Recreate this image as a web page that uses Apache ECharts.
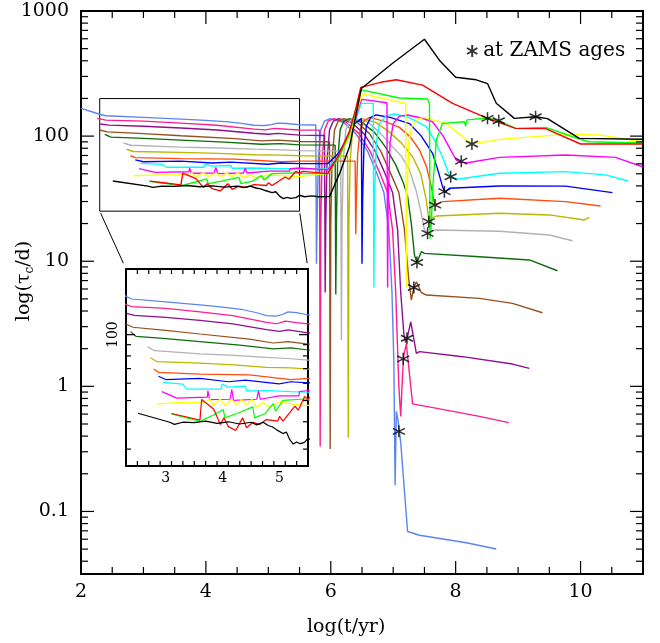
<!DOCTYPE html>
<html><head><meta charset="utf-8">
<script src="https://cdn.jsdelivr.net/npm/echarts/dist/echarts.min.js"></script>
<style>html,body{margin:0;padding:0;background:#fff}#c{width:660px;height:643px}</style>
</head><body><div id="c"></div><script>
// ---- values: [log10(t/yr), log10(tau_c/d)] ----
const lightBlue=[[2.00,2.222],[2.30,2.175],[2.40,2.163],[3.00,2.150],[3.60,2.136],[4.00,2.126],[4.36,2.114],[4.60,2.100],[4.77,2.087],[4.94,2.085],[5.05,2.092],[5.15,2.104],[5.30,2.101],[5.51,2.090],[5.76,2.089],[5.77,0.98],[5.78,1.30],[5.80,1.80],[5.84,2.05],[5.90,2.12],[5.99,2.14],[6.20,2.11],[6.40,2.02],[6.59,1.88],[6.74,1.70],[6.85,1.55],[6.93,1.25],[6.98,0.75],[7.01,0.20],[7.03,-0.79],[7.05,-0.20],[7.08,-0.28],[7.12,-0.45],[7.23,-1.16],[7.42,-1.19],[7.80,-1.22],[8.17,-1.25],[8.65,-1.30]];
const pink=[[2.26,2.142],[2.40,2.128],[3.00,2.120],[3.60,2.104],[4.18,2.087],[4.77,2.056],[4.95,2.050],[5.10,2.062],[5.30,2.055],[5.50,2.049],[5.82,2.048],[5.83,-0.48],[5.84,1.30],[5.86,1.80],[5.90,2.05],[5.96,2.12],[6.05,2.14],[6.25,2.11],[6.45,2.02],[6.63,1.88],[6.79,1.70],[6.91,1.55],[6.99,1.25],[7.04,0.75],[7.09,0.00],[7.12,-0.24],[7.15,0.10],[7.17,0.25],[7.21,0.34],[7.26,0.10],[7.31,-0.14],[7.85,-0.19],[8.38,-0.24],[8.85,-0.29]];
const purple=[[2.31,2.097],[2.45,2.088],[3.00,2.079],[3.60,2.065],[4.18,2.049],[4.77,2.023],[5.00,2.015],[5.15,2.022],[5.50,2.008],[5.90,2.005],[5.91,0.75],[5.92,1.30],[5.94,1.80],[5.98,2.05],[6.04,2.12],[6.13,2.14],[6.33,2.11],[6.53,2.02],[6.71,1.88],[6.87,1.70],[6.99,1.55],[7.07,1.25],[7.12,0.75],[7.17,0.42],[7.20,0.35],[7.23,0.40],[7.28,0.516],[7.33,0.38],[7.37,0.264],[7.42,0.277],[8.11,0.237],[8.91,0.178],[9.18,0.144]];
const brown=[[2.30,2.049],[2.42,2.034],[3.00,2.020],[3.60,2.003],[4.47,1.980],[4.89,1.962],[5.15,1.968],[5.50,1.957],[5.98,1.955],[5.99,-0.50],[6.00,1.30],[6.02,1.80],[6.06,2.05],[6.12,2.12],[6.21,2.14],[6.42,2.11],[6.62,2.02],[6.80,1.88],[6.96,1.70],[7.09,1.55],[7.18,1.25],[7.25,0.85],[7.29,0.69],[7.33,0.79],[7.37,0.836],[7.45,0.75],[7.53,0.73],[8.38,0.703],[8.91,0.663],[9.39,0.588]];
const darkGreen=[[2.38,2.014],[2.48,1.992],[3.00,1.982],[3.60,1.968],[4.30,1.952],[4.89,1.935],[5.20,1.940],[5.50,1.930],[6.07,1.928],[6.08,0.735],[6.09,1.30],[6.11,1.80],[6.15,2.05],[6.21,2.12],[6.30,2.14],[6.50,2.11],[6.70,2.03],[6.88,1.91],[7.04,1.77],[7.16,1.63],[7.23,1.52],[7.29,1.30],[7.34,1.05],[7.38,0.99],[7.45,1.076],[7.50,1.063],[8.38,1.036],[9.18,1.010],[9.63,0.924]];
const gray=[[2.68,1.945],[2.80,1.927],[3.60,1.912],[4.20,1.905],[4.77,1.896],[5.20,1.890],[5.50,1.884],[6.16,1.880],[6.17,0.37],[6.18,1.30],[6.20,1.80],[6.24,2.05],[6.30,2.12],[6.39,2.14],[6.60,2.11],[6.80,2.02],[6.98,1.92],[7.13,1.84],[7.26,1.73],[7.37,1.56],[7.45,1.38],[7.50,1.25],[7.55,1.223],[7.62,1.245],[7.69,1.25],[8.70,1.24],[9.50,1.21],[9.87,1.164]];
const olive=[[2.73,1.895],[2.84,1.877],[3.60,1.870],[4.20,1.862],[4.77,1.851],[5.20,1.848],[5.50,1.843],[6.27,1.840],[6.28,-0.41],[6.29,1.30],[6.31,1.80],[6.35,2.05],[6.41,2.12],[6.50,2.14],[6.72,2.11],[6.92,2.04],[7.12,1.95],[7.31,1.835],[7.44,1.70],[7.53,1.489],[7.57,1.33],[7.60,1.32],[7.64,1.35],[7.69,1.361],[8.70,1.383],[9.50,1.370],[10.06,1.330],[10.14,1.350]];
const orange=[[2.79,1.843],[2.87,1.828],[3.60,1.820],[4.47,1.816],[5.20,1.795],[5.50,1.800],[6.39,1.800],[6.40,1.215],[6.41,1.50],[6.43,1.85],[6.47,2.05],[6.53,2.12],[6.62,2.15],[6.85,2.12],[7.10,2.07],[7.28,1.99],[7.42,1.889],[7.53,1.76],[7.61,1.596],[7.66,1.46],[7.70,1.455],[7.79,1.476],[8.70,1.503],[9.76,1.476],[10.32,1.441]];
const blue=[[2.87,1.810],[3.00,1.795],[3.60,1.800],[4.10,1.785],[4.40,1.792],[4.99,1.775],[5.20,1.785],[5.50,1.780],[5.95,1.780],[6.12,1.86],[6.25,1.97],[6.38,2.10],[6.49,2.14],[6.50,0.98],[6.51,1.50],[6.53,1.90],[6.57,2.08],[6.64,2.15],[6.73,2.169],[6.95,2.15],[7.26,2.10],[7.45,2.00],[7.63,1.862],[7.72,1.72],[7.79,1.596],[7.83,1.55],[7.90,1.583],[8.70,1.601],[9.76,1.600],[10.51,1.548]];
const cyan=[[2.95,1.782],[3.30,1.774],[3.37,1.751],[3.97,1.751],[3.99,1.774],[4.10,1.760],[4.40,1.765],[4.42,1.743],[4.77,1.745],[5.20,1.740],[5.50,1.737],[5.95,1.740],[6.12,1.84],[6.30,2.00],[6.40,2.13],[6.46,2.22],[6.49,2.262],[6.68,2.262],[6.69,0.79],[6.70,1.50],[6.73,1.95],[6.78,2.10],[6.88,2.16],[7.02,2.177],[7.25,2.15],[7.53,2.075],[7.67,1.96],[7.79,1.835],[7.88,1.71],[7.93,1.67],[8.03,1.655],[8.70,1.703],[9.76,1.716],[10.40,1.690],[10.76,1.641]];
const magenta=[[2.93,1.740],[3.19,1.710],[3.73,1.715],[3.74,1.744],[3.77,1.703],[4.13,1.705],[4.16,1.750],[4.19,1.700],[4.60,1.705],[4.63,1.744],[4.66,1.705],[5.00,1.720],[5.34,1.720],[5.35,1.740],[5.50,1.745],[5.95,1.730],[6.12,1.83],[6.30,2.00],[6.40,2.14],[6.46,2.25],[6.50,2.294],[6.90,2.267],[6.91,0.79],[6.92,1.50],[6.95,1.95],[7.00,2.10],[7.10,2.16],[7.23,2.169],[7.45,2.145],[7.63,2.115],[7.80,2.00],[7.93,1.88],[8.01,1.809],[8.09,1.79],[8.19,1.787],[8.70,1.830],[9.76,1.849],[10.56,1.830],[10.99,1.755]];
const yellow=[[2.84,1.683],[3.20,1.690],[3.71,1.692],[3.77,1.707],[3.84,1.676],[3.96,1.706],[4.04,1.676],[4.16,1.706],[4.25,1.676],[4.33,1.706],[4.42,1.676],[4.51,1.706],[4.60,1.668],[4.71,1.691],[4.80,1.668],[5.00,1.691],[5.47,1.676],[5.95,1.700],[6.12,1.82],[6.30,2.00],[6.40,2.16],[6.47,2.29],[6.52,2.337],[7.20,2.262],[7.21,0.79],[7.22,1.50],[7.25,1.95],[7.30,2.08],[7.40,2.14],[7.50,2.15],[7.70,2.12],[7.85,2.10],[8.05,2.02],[8.17,1.969],[8.26,1.937],[8.70,1.974],[9.76,2.014],[10.30,2.010],[10.99,1.955]];
const green=[[3.10,1.638],[3.60,1.604],[3.84,1.633],[4.01,1.658],[4.04,1.620],[4.25,1.640],[4.53,1.670],[4.56,1.620],[4.75,1.640],[4.89,1.685],[4.93,1.650],[5.06,1.700],[5.44,1.706],[5.55,1.700],[5.95,1.700],[6.12,1.82],[6.30,2.02],[6.40,2.20],[6.46,2.33],[6.49,2.37],[7.10,2.305],[7.55,2.297],[7.58,2.26],[7.59,1.18],[7.61,1.30],[7.63,1.569],[7.69,1.969],[7.79,2.102],[8.14,2.115],[8.16,2.08],[8.18,2.13],[8.51,2.145],[8.69,2.123],[8.96,2.062],[9.44,2.07],[9.87,1.995],[10.13,1.955],[10.99,1.945]];
const red=[[3.10,1.640],[3.35,1.625],[3.60,1.610],[3.63,1.704],[3.84,1.660],[3.96,1.590],[4.02,1.620],[4.10,1.580],[4.23,1.562],[4.35,1.620],[4.42,1.575],[4.53,1.600],[4.65,1.590],[4.77,1.612],[4.97,1.605],[5.00,1.627],[5.06,1.605],[5.27,1.673],[5.33,1.655],[5.44,1.718],[5.50,1.705],[5.55,1.718],[5.95,1.700],[6.12,1.84],[6.30,2.04],[6.40,2.22],[6.48,2.39],[6.80,2.43],[7.05,2.45],[7.47,2.408],[7.95,2.262],[8.51,2.142],[8.96,2.062],[9.44,2.060],[10.00,1.937],[10.99,1.937]];
const black=[[2.51,1.641],[3.07,1.600],[3.15,1.590],[3.30,1.600],[3.50,1.598],[3.70,1.605],[3.90,1.595],[4.10,1.602],[4.30,1.592],[4.50,1.600],[4.60,1.588],[4.71,1.600],[4.80,1.585],[4.88,1.578],[4.95,1.565],[5.06,1.548],[5.12,1.555],[5.18,1.520],[5.24,1.500],[5.30,1.510],[5.36,1.502],[5.44,1.508],[5.50,1.527],[5.58,1.515],[5.70,1.522],[5.80,1.515],[5.98,1.516],[6.14,1.700],[6.30,1.915],[6.49,2.380],[6.99,2.582],[7.50,2.774],[7.75,2.600],[8.00,2.470],[8.33,2.450],[8.51,2.420],[8.65,2.262],[8.94,2.142],[9.28,2.155],[9.47,2.140],[9.98,1.982],[10.99,1.975]];
// ZAMS asterisks
const zamsLogT  =[7.09, 7.16, 7.22, 7.33, 7.38, 7.55, 7.57, 7.67, 7.82, 7.92, 8.09, 8.26, 8.51, 8.69, 9.28];
const zamsLogTau=[-0.36,0.22, 0.384,0.79, 0.99, 1.223,1.316,1.449,1.556,1.675,1.80, 1.937,2.142,2.123,2.155];
// tick labels
const mainXLabels=[2,4,6,8,10];
const mainYLabels={'-1':'0.1','0':'1','1':'10','2':'100','3':'1000'};
const insetXLabels=[3,4,5];
const insetYLabels={'2':'100'};
// ranges
const X_RANGE=[2,11], Y_RANGE=[-1.5,3];
const INSET_X=[2.3,5.5], INSET_Y=[1.4,2.3];

const curves=[
 {name:'lightBlue',color:'#5A84F2',data:lightBlue},
 {name:'pink',color:'#FF1C8E',data:pink},
 {name:'purple',color:'#8E0F8E',data:purple},
 {name:'brown',color:'#96501E',data:brown},
 {name:'darkGreen',color:'#0B6E0B',data:darkGreen},
 {name:'gray',color:'#B2B2B2',data:gray},
 {name:'olive',color:'#B8B800',data:olive},
 {name:'orange',color:'#FF4C10',data:orange},
 {name:'blue',color:'#0000FF',data:blue},
 {name:'cyan',color:'#00FFFF',data:cyan},
 {name:'magenta',color:'#FF00FF',data:magenta},
 {name:'yellow',color:'#FFFF00',data:yellow},
 {name:'green',color:'#00FF00',data:green},
 {name:'red',color:'#FF0000',data:red},
 {name:'black',color:'#000000',data:black}
];

const FONT='"DejaVu Serif", "Liberation Serif", serif';
const STAR='path://M0,-6L0,6M-5.2,-3L5.2,3M-5.2,3L5.2,-3';

function ln(x1,y1,x2,y2,w){return {type:'line',shape:{x1,y1,x2,y2},style:{stroke:'#000',lineWidth:w||1.2}};}
function tickSeries(gi,xr,yr,xt,yt){
  const data=xt.map(t=>[t[0],yr[0],t[1],0]).concat(yt.map(t=>[xr[0],t[0],t[1],1]));
  return {type:'custom',xAxisIndex:gi,yAxisIndex:gi,silent:true,animation:false,z:6,clip:false,data,
    renderItem(params,api){
      const v0=api.value(0),v1=api.value(1),len=api.value(2),kind=api.value(3);
      let a,b;
      if(kind===0){a=api.coord([v0,yr[0]]);b=api.coord([v0,yr[1]]);
        return {type:'group',children:[ln(a[0],a[1],a[0],a[1]-len),ln(b[0],b[1],b[0],b[1]+len)]};}
      a=api.coord([xr[0],v1]);b=api.coord([xr[1],v1]);
      return {type:'group',children:[ln(a[0],a[1],a[0]+len,a[1]),ln(b[0],b[1],b[0]-len,b[1])]};
    }};
}
// main ticks
const mxt=[];for(let i=1;i<18;i++){const v=2+i*0.5;mxt.push([v,(Number.isInteger(v)&&v%2===0)?13:7]);}
const myt=[];for(let d=-2;d<=2;d++){for(let k=1;k<=9;k++){const v=d+Math.log10(k);if(v>Y_RANGE[0]+1e-6&&v<Y_RANGE[1]-1e-6)myt.push([v,k===1?13:7]);}}
// inset ticks
const ixt=[];for(let i=1;i<16;i++){const v=Math.round((2.3+i*0.2)*10)/10;ixt.push([v,Number.isInteger(v)?9:5]);}
const iyt=[];for(let k=3;k<=9;k++)iyt.push([1+Math.log10(k),5]);iyt.push([2,9]);

const series=[];
curves.forEach((c,i)=>{
  const s={type:'line',name:c.name,xAxisIndex:0,yAxisIndex:0,data:c.data,symbol:'none',showSymbol:false,silent:true,animation:false,
    lineStyle:{color:c.color,width:1.4},z:2};
  if(i===0){s.markArea={silent:true,itemStyle:{color:'rgba(0,0,0,0)',borderColor:'#000',borderWidth:1},
     data:[[{coord:[INSET_X[0],INSET_Y[0]]},{coord:[INSET_X[1],INSET_Y[1]]}]]};}
  series.push(s);
  series.push({type:'line',name:c.name+'_inset',xAxisIndex:1,yAxisIndex:1,data:c.data,symbol:'none',showSymbol:false,silent:true,animation:false,clip:true,
    lineStyle:{color:c.color,width:1.2},z:3});
});
series.push({type:'scatter',name:'at ZAMS ages',xAxisIndex:0,yAxisIndex:0,data:zamsLogT.map((x,i)=>[x,zamsLogTau[i]]),
  symbol:STAR,symbolSize:12,silent:true,animation:false,z:10,
  itemStyle:{color:'rgba(0,0,0,0)',borderColor:'#000',borderWidth:1.5}});
series.push(tickSeries(0,X_RANGE,Y_RANGE,mxt,myt));
series.push(tickSeries(1,INSET_X,INSET_Y,ixt,iyt));

const near=(v,n)=>Math.abs(v-n)<1e-6;
const option={
  animation:false,
  backgroundColor:'#fff',
  grid:[
    {left:81,top:11,right:17,bottom:69,show:true,borderColor:'#000',borderWidth:2,backgroundColor:'rgba(0,0,0,0)'},
    {left:126,top:269,width:182,height:197,show:true,borderColor:'#000',borderWidth:2,backgroundColor:'#fff'}
  ],
  xAxis:[
    {gridIndex:0,type:'value',min:X_RANGE[0],max:X_RANGE[1],interval:1,axisLine:{show:false},axisTick:{show:false},splitLine:{show:false},
     axisLabel:{formatter:v=>mainXLabels.some(n=>near(v,n))?String(Math.round(v)):'',fontFamily:FONT,fontSize:19,color:'#000',margin:9}},
    {gridIndex:1,type:'value',min:INSET_X[0],max:INSET_X[1],interval:0.1,axisLine:{show:false},axisTick:{show:false},splitLine:{show:false},
     axisLabel:{formatter:v=>insetXLabels.some(n=>near(v,n))?String(Math.round(v)):'',fontFamily:FONT,fontSize:14,color:'#000',margin:5}}
  ],
  yAxis:[
    {gridIndex:0,type:'value',min:Y_RANGE[0],max:Y_RANGE[1],interval:0.5,axisLine:{show:false},axisTick:{show:false},splitLine:{show:false},
     axisLabel:{formatter:v=>{const r=Math.round(v);return near(v,r)&&mainYLabels[String(r)]?mainYLabels[String(r)]:'';},fontFamily:FONT,fontSize:19,color:'#000',margin:12}},
    {gridIndex:1,type:'value',min:INSET_Y[0],max:INSET_Y[1],interval:0.1,axisLine:{show:false},axisTick:{show:false},splitLine:{show:false},
     axisLabel:{formatter:v=>{const r=Math.round(v);return near(v,r)&&insetYLabels[String(r)]?insetYLabels[String(r)]:'';},rotate:90,fontFamily:FONT,fontSize:14,color:'#000',margin:6}}
  ],
  legend:{data:[{name:'at ZAMS ages',icon:STAR}],left:461,top:36,itemWidth:12,itemHeight:12,selectedMode:false,
    textStyle:{fontFamily:FONT,fontSize:20,color:'#000'}},
  graphic:[
    {id:'xt',type:'text',left:307,top:618,style:{text:'log(t/yr)',fontFamily:FONT,fontSize:19,fill:'#000'}},
    {id:'yt',type:'text',x:24,y:281,rotation:Math.PI/2,style:{text:'{a|log(τ}{b|c}{a|/d)}',align:'center',verticalAlign:'middle',
      rich:{a:{fontFamily:FONT,fontSize:19,lineHeight:24,verticalAlign:'middle',fill:'#000'},b:{fontFamily:FONT,fontSize:12,lineHeight:24,verticalAlign:'bottom',fill:'#000'}}}}
  ],
  series
};
const chart=echarts.init(document.getElementById('c'),null,{renderer:'canvas'});
chart.setOption(option);
// connector lines from the zoom box to the inset
const p1=chart.convertToPixel({gridIndex:0},[INSET_X[0],INSET_Y[0]]);
const q1=chart.convertToPixel({gridIndex:1},[INSET_X[0],INSET_Y[1]]);
const p2=chart.convertToPixel({gridIndex:0},[INSET_X[1],INSET_Y[0]]);
const q2=chart.convertToPixel({gridIndex:1},[INSET_X[1],INSET_Y[1]]);
function seg(p,q){const a=0.035,b=0.9;return [p[0]+(q[0]-p[0])*a,p[1]+(q[1]-p[1])*a,p[0]+(q[0]-p[0])*b,p[1]+(q[1]-p[1])*b];}
const s1=seg(p1,q1),s2=seg(p2,q2);
chart.setOption({graphic:[
  {id:'c1',type:'line',shape:{x1:s1[0],y1:s1[1],x2:s1[2],y2:s1[3]},style:{stroke:'#000',lineWidth:1},silent:true},
  {id:'c2',type:'line',shape:{x1:s2[0],y1:s2[1],x2:s2[2],y2:s2[3]},style:{stroke:'#000',lineWidth:1},silent:true}
]});
</script></body></html>
